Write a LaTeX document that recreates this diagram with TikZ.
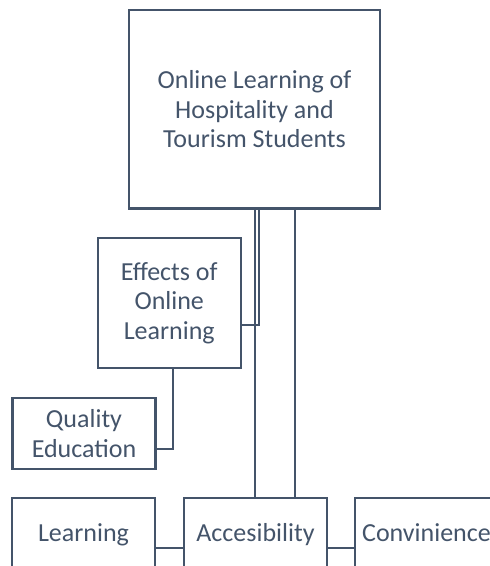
\documentclass[tikz,border=0pt]{standalone}
\usepackage{fontspec}
\setmainfont{Carlito}
\usepackage{tikz}
\definecolor{slate}{HTML}{44546A}
\tikzstyle{box}=[draw=slate, line width=2.2pt, text=slate, align=center, inner sep=0pt, font=\fontsize{26}{29.5}\selectfont]
\tikzstyle{wbox}=[box, minimum width=143pt]
\tikzstyle{rowbox}=[wbox, minimum height=100pt, text height=18pt, text depth=32pt]
\tikzstyle{link}=[draw=slate, line width=2pt]

\begin{document}
\begin{tikzpicture}[x=1pt, y=-1pt]
        \useasboundingbox (0, 0) rectangle (490, 566);
        \clip (0, 0) rectangle (490, 566);
        \node[box, minimum width=251pt, minimum height=198.5pt] (top) at (254.5, 109.25) {Online Learning of\\Hospitality and\\Tourism Students};
        \node[wbox, minimum height=130pt]  (effects) at (169.25, 303) {Effects of\\Online\\Learning};
        \node[wbox, minimum height=71pt]   (quality) at (84, 433.5) {Quality\\Education};
        \node[rowbox]                      (learn) at (83.5, 548) {Learning};
        \node[rowbox]                      (access) at (255.5, 548) {Accesibility};
        \node[rowbox]                      (conv) at (426.5, 548) {Convinience};
        \draw[link] (top.south) -- (top.south |- access.north);
        \draw[link] ([xshift=4.4pt]top.south) |- ([yshift=-21.5pt]effects.east);
        \draw[link] ([xshift=40.5pt]top.south) -- ([xshift=40.5pt]top.south |- access.north);
        \draw[link] ([xshift=3.75pt]effects.south) |- ([yshift=-15.5pt]quality.east);
        \draw[link] (learn) -- (access);
        \draw[link] (access) -- (conv);
    \end{tikzpicture}
\end{document}
